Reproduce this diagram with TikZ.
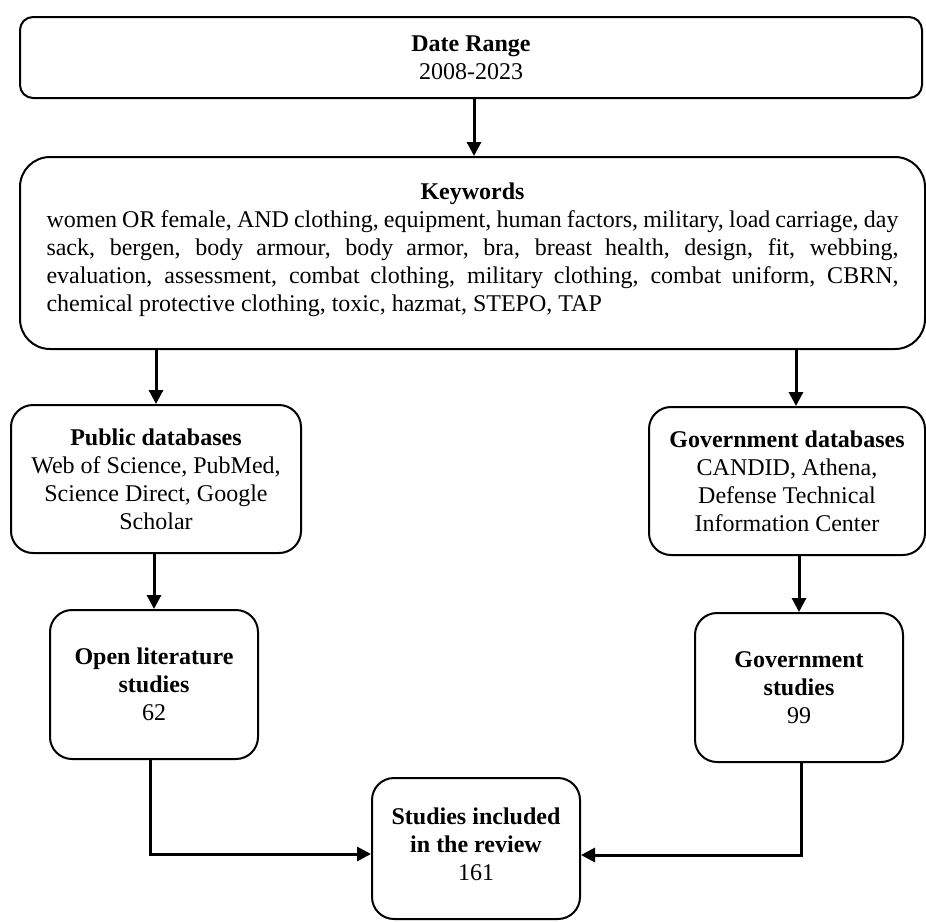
\documentclass[tikz,border=0pt]{standalone}
\usepackage{fontspec}
\setmainfont{Liberation Serif}
\usetikzlibrary{arrows.meta,calc}
\tikzset{
  box/.style={draw=black, line width=2pt, align=center, inner sep=0pt,
    font=\fontsize{24}{28}\selectfont, fill=white},
  arr/.style={line width=3pt, -{Triangle[length=14pt,width=14pt]}}
}
\begin{document}
\begin{tikzpicture}[x=1pt,y=-1pt]
\useasboundingbox (0,0) rectangle (926,921);
\node[box, rounded corners=13pt, minimum width=902pt, minimum height=81pt] (top) at (471,57.5)
  {\textbf{Date Range}\\2008-2023};
\node[box, rounded corners=30pt, minimum width=905pt, minimum height=192pt, text width=852pt, align=justify] (kw) at (472.5,253)
  {{\centering\textbf{Keywords}\par}%
  women OR female, AND clothing, equipment, human factors, military, load carriage, day\linebreak
  sack, bergen, body armour, body armor, bra, breast health, design, fit, webbing,\linebreak
  evaluation, assessment, combat clothing, military clothing, combat uniform, CBRN,\linebreak
  chemical protective clothing, toxic, hazmat, STEPO, TAP\rule[-11pt]{0pt}{0pt}};
\node[box, rounded corners=22pt, minimum width=290pt, minimum height=148pt] (pub) at (156,479)
  {\textbf{Public databases}\\Web of Science, PubMed,\\Science Direct, Google\\Scholar};
\node[box, rounded corners=22pt, minimum width=276pt, minimum height=148pt] (gov) at (787,481)
  {\textbf{Government databases}\\CANDID, Athena,\\Defense Technical\\Information Center};
\node[box, rounded corners=22pt, minimum width=208pt, minimum height=149pt] (open) at (154,684.5)
  {\textbf{Open literature}\\\textbf{studies}\\62};
\node[box, rounded corners=22pt, minimum width=208pt, minimum height=149pt] (govst) at (799,687.5)
  {\textbf{Government}\\\textbf{studies}\\99};
\node[box, rounded corners=22pt, minimum width=208pt, minimum height=141pt] (studies) at (476,848.5)
  {\textbf{Studies included}\\\textbf{in the review}\\161\rule[-8pt]{0pt}{0pt}};
\draw[arr] ([xshift=3pt]top.south) -- ([xshift=3pt]top.south |- kw.north);
\draw[arr] (pub.north |- kw.south) -- (pub.north);
\draw[arr] ([xshift=9pt]gov.north |- kw.south) -- ([xshift=9pt]gov.north);
\draw[arr] (open.north |- pub.south) -- (open.north);
\draw[arr] (govst.north |- gov.south) -- (govst.north);
\draw[arr] ([xshift=-4pt]open.south) |- ([yshift=-5.5pt]studies.west);
\draw[arr] ([xshift=2pt]govst.south) |- ([yshift=-6.5pt]studies.east);
\end{tikzpicture}
\end{document}
